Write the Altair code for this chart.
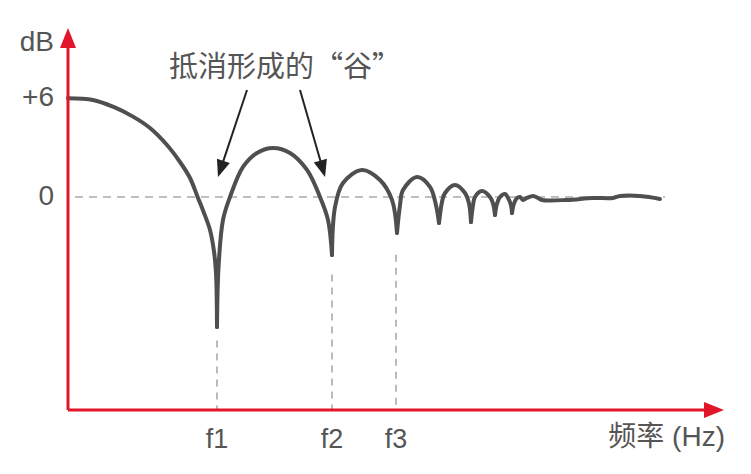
import altair as alt
import pandas as pd

# ---- data (x: arbitrary frequency units, y: dB) ----
X_MIN, X_MAX = 0, 654
Y_MIN, Y_MAX = -12.91, 10.24

curve_freq = [0, 25, 45, 65, 82, 99, 112, 122, 130, 136, 142, 146, 148, 149,
              149, 150.5, 155, 162, 175, 189, 205, 222, 239, 252, 260, 264,
              264, 267, 275, 294, 312, 324, 329,
              329, 332, 335, 349, 362, 368, 371,
              371, 374, 377, 387, 397, 401, 403,
              403, 405, 407, 414, 422, 425, 427,
              427, 429, 432, 437, 441, 443, 444,
              444, 446, 449, 452, 455, 459, 465, 470, 474, 499, 525, 545, 552, 572, 592]
curve_db = [5.98, 5.88, 5.47, 4.87, 4.18, 3.15, 2.12, 1.15, -0.06, -0.97, -2.0, -3.3, -4.6, -7.88,
            -7.88, -4.3, -1.39, 0.0, 1.82, 2.67, 2.97, 2.67, 1.64, 0.0, -1.39, -3.52,
            -3.52, -0.61, 0.85, 1.64, 1.03, -0.18, -2.18,
            -2.18, -0.5, 0.42, 1.21, 0.61, -0.5, -1.58,
            -1.58, -0.3, 0.24, 0.73, 0.24, -0.4, -1.52,
            -1.52, -0.5, 0.0, 0.36, 0.0, -0.4, -1.09,
            -1.09, -0.4, 0.0, 0.18, -0.18, -0.5, -0.97,
            -0.97, -0.4, -0.06, 0.0, -0.18, -0.06, 0.06, -0.06, -0.18, -0.18, -0.06, -0.06, 0.06, 0.06, -0.12]
curve_seg = ([0] * 14 + [1] * 12 + [2] * 7 + [3] * 7 + [4] * 7 + [5] * 7 + [6] * 7 + [7] * 15)

# null frequencies and labels
null_freq = [149, 264, 328]
null_top = [-8.7, -4.7, -3.5]
null_label = ["f1", "f2", "f3"]

# y tick labels
ytick_val = [0, 6]
ytick_label = ["0", "+6"]

# zero reference line extent
zero_from, zero_to = 7, 597

# annotation arrows (start -> head)
ann_x1 = [179, 232]
ann_y1 = [6.48, 6.48]
ann_x2 = [152.7, 254.7]
ann_y2 = [1.70, 1.71]
ann_angle = [198.4, 164]

LATIN = '"Liberation Sans", "Noto Sans CJK SC", sans-serif'
CJK = '"Noto Sans CJK SC", sans-serif'
RED = "#e3152b"
GRAY_TXT = "#555555"
CURVE = "#4f4f4f"
DASH = "#aaaaaa"
ARROW_SHAPE = "M0,-1L-0.8,1L0.8,1Z"

xs = alt.Scale(domain=[X_MIN, X_MAX], nice=False, zero=False)
ys = alt.Scale(domain=[Y_MIN, Y_MAX], nice=False, zero=False)

curve_df = pd.DataFrame({"f": curve_freq, "db": curve_db, "seg": curve_seg})
null_df = pd.DataFrame({"f": null_freq, "top": null_top, "bottom": [Y_MIN] * 3,
                        "label": null_label, "ly": [-14.73] * 3})
ytick_df = pd.DataFrame({"v": ytick_val, "label": ytick_label, "lx": [-14, -14]})
zero_df = pd.DataFrame({"x1": [zero_from], "x2": [zero_to], "y": [0]})
axis_df = pd.DataFrame({"x1": [X_MIN, X_MIN], "x2": [X_MIN, 646],
                        "y1": [Y_MIN, Y_MIN], "y2": [9.6, Y_MIN]})
axis_head_df = pd.DataFrame({"x": [X_MIN, 646], "y": [9.64, Y_MIN], "angle": [0, 90]})
ann_df = pd.DataFrame({"x1": ann_x1, "y1": ann_y1, "x2": ann_x2, "y2": ann_y2,
                       "angle": ann_angle})
text_df = pd.DataFrame({"x": [-14], "y": [9.33], "t": ["dB"]})
xlab_df = pd.DataFrame({"x": [657], "y": [-14.6], "t": ["频率 (Hz)"]})
title_df = pd.DataFrame({"x": [217], "y": [7.82], "t": ["抵消形成的“谷”"]})

X = lambda f: alt.X(f, type="quantitative", scale=xs, axis=None)
Y = lambda f: alt.Y(f, type="quantitative", scale=ys, axis=None)

zero_line = alt.Chart(zero_df).mark_rule(color=DASH, strokeWidth=1.6, strokeDash=[8, 6]).encode(
    x=X("x1"), x2="x2", y=Y("y"))
vlines = alt.Chart(null_df).mark_rule(color=DASH, strokeWidth=1.6, strokeDash=[7, 6]).encode(
    x=X("f"), y=Y("top"), y2="bottom")
curve = alt.Chart(curve_df).mark_line(color=CURVE, strokeWidth=4, interpolate="catmull-rom",
                                      strokeCap="round", strokeJoin="round").encode(
    x=X("f"), y=Y("db"), detail="seg:N", order="f:Q")
axes = alt.Chart(axis_df).mark_rule(color=RED, strokeWidth=3).encode(
    x=X("x1"), x2="x2", y=Y("y1"), y2="y2")
axis_heads = alt.Chart(axis_head_df).mark_point(shape=ARROW_SHAPE, size=400, filled=True,
                                                 color=RED, opacity=1).encode(
    x=X("x"), y=Y("y"), angle=alt.Angle("angle:Q", scale=None))
ann_lines = alt.Chart(ann_df).mark_rule(color="#222222", strokeWidth=2).encode(
    x=X("x1"), x2="x2", y=Y("y1"), y2="y2")
ann_heads = alt.Chart(ann_df).mark_point(shape=ARROW_SHAPE, size=289, filled=True,
                                          color="#222222", opacity=1).encode(
    x=X("x2"), y=Y("y2"), angle=alt.Angle("angle:Q", scale=None))
ytext = alt.Chart(ytick_df).mark_text(align="right", baseline="middle", font=LATIN,
                                      fontSize=28, color=GRAY_TXT).encode(
    x=X("lx"), y=Y("v"), text="label:N")
ftext = alt.Chart(null_df).mark_text(align="center", baseline="middle", font=LATIN,
                                     fontSize=27, color=GRAY_TXT).encode(
    x=X("f"), y=Y("ly"), text="label:N")
dbtext = alt.Chart(text_df).mark_text(align="right", baseline="middle", font=LATIN,
                                      fontSize=28, color=GRAY_TXT).encode(
    x=X("x"), y=Y("y"), text="t:N")
xlab = alt.Chart(xlab_df).mark_text(align="right", baseline="middle", font=LATIN,
                                    fontSize=28, color=GRAY_TXT).encode(
    x=X("x"), y=Y("y"), text="t:N")
title = alt.Chart(title_df).mark_text(align="center", baseline="middle", font=CJK,
                                      fontSize=29, color=GRAY_TXT).encode(
    x=X("x"), y=Y("y"), text="t:N")

chart = alt.layer(zero_line, vlines, curve, axes, axis_heads, ann_lines, ann_heads,
                  ytext, ftext, dbtext, xlab, title).properties(
    width=654, height=382,
    padding={"left": 60, "top": 20, "right": 20, "bottom": 56},
    autosize=alt.AutoSizeParams(type="none"),
    background="white",
).configure_view(stroke=None)

chart.save("out.html", embed_options={"renderer": "svg", "actions": False})
